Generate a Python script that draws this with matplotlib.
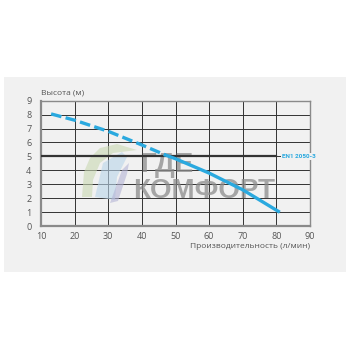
"""Pump curve: head vs flow."""
import matplotlib as mpl
import matplotlib.pyplot as plt
from matplotlib.patches import Rectangle, Polygon

mpl.rcParams.update({
    "font.family": ["Open Sans", "DejaVu Sans"],
    "font.size": 6.5,
})

# Data
dash_x = [13, 20, 30, 40, 47]
dash_y = [8.05, 7.6, 6.8, 5.82, 5.1]
solid_x = [47, 50, 60, 70, 80.6]
solid_y = [5.1, 4.83, 3.8, 2.6, 1.05]
ref_head = 5
ref_label = "EN1 2050-3"
x_ticks = [10, 20, 30, 40, 50, 60, 70, 80, 90]
y_ticks = [0, 1, 2, 3, 4, 5, 6, 7, 8, 9]

CURVE = "#2aa9df"
TEXT = "#555555"
PANEL = "#f1f1f1"
W = H = 350


def px(x, y):
    """pixel position from top-left -> figure fraction"""
    return (x / W, 1 - y / H)


fig = plt.figure(figsize=(3.5, 3.5), dpi=100)
fig.patch.set_facecolor("white")
fig.patches.append(Rectangle(px(4, 272), 342 / W, 195 / H,
                             transform=fig.transFigure, facecolor=PANEL,
                             edgecolor="none", zorder=-5))

ax = fig.add_axes([41 / W, 1 - 226 / H, 269 / W, 125.3 / H])
ax.set_zorder(2)
ax.set_facecolor("none")
ax.set_xlim(10, 90)
ax.set_ylim(0, 9)
ax.set_xticks(x_ticks)
ax.set_yticks(y_ticks)
ax.tick_params(length=0, colors=TEXT, labelsize=6.5)
ax.tick_params(axis="x", pad=4)
ax.tick_params(axis="y", pad=7)
ax.grid(True, color="#333333", lw=0.7)
ax.set_axisbelow(True)
for side in ax.spines.values():
    side.set_color("#8a8a8a")
    side.set_linewidth(1.0)
ax.spines["left"].set_linewidth(1.6)
ax.spines["bottom"].set_linewidth(1.6)

# watermark logo + text (faint, above grid, under curve)
logo = [
    ([(82, 197), (84, 172), (90, 158), (100, 148), (117, 144), (137, 150),
      (113, 153), (100, 163), (93, 180), (92, 197)], "#c9d8b2"),
    ([(95, 197), (103, 163), (122, 152), (127, 157), (117, 177), (115, 200)],
     "#b9d5ea"),
    ([(110, 203), (122, 170), (129, 163), (127, 174), (118, 201)], "#b4b4d6"),
]
for pts, col in logo:
    ax.add_patch(Polygon([px(x, y) for x, y in pts], closed=True,
                         transform=fig.transFigure, facecolor=col,
                         edgecolor="none", alpha=0.6, zorder=3))
for word, (lx, ly) in [("ГДЕ", (140, 172)), ("КОМФОРТ", (133, 198))]:
    ax.text(*px(lx, ly), word, transform=fig.transFigure,
            family=["Liberation Sans", "DejaVu Sans"], fontweight="bold",
            fontsize=20, color="#8c8c8c", alpha=0.75, ha="left",
            va="baseline", zorder=4)

ax.plot([10, 80], [ref_head, ref_head], color="#333333", lw=1.6, zorder=5)
ax.text(81.8, ref_head, ref_label, color=CURVE, fontsize=4.6,
        fontweight="bold", va="center", ha="left",
        family=["Liberation Sans Narrow", "Roboto"], zorder=6,
        bbox=dict(boxstyle="square,pad=0.15", fc=PANEL, ec="none"))

ax.plot(dash_x, dash_y, color=CURVE, lw=2.4, ls=(0, (3.2, 1.3)), zorder=7)
ax.plot(solid_x, solid_y, color=CURVE, lw=2.4, zorder=7)

fig.text(*px(41, 93), "Высота (м)", color=TEXT, fontsize=6,
         ha="left", va="center")
fig.text(*px(310, 247), "Производительность (л/мин)", color=TEXT,
         fontsize=6, ha="right", va="center")

fig.savefig("out.png", dpi=100)
